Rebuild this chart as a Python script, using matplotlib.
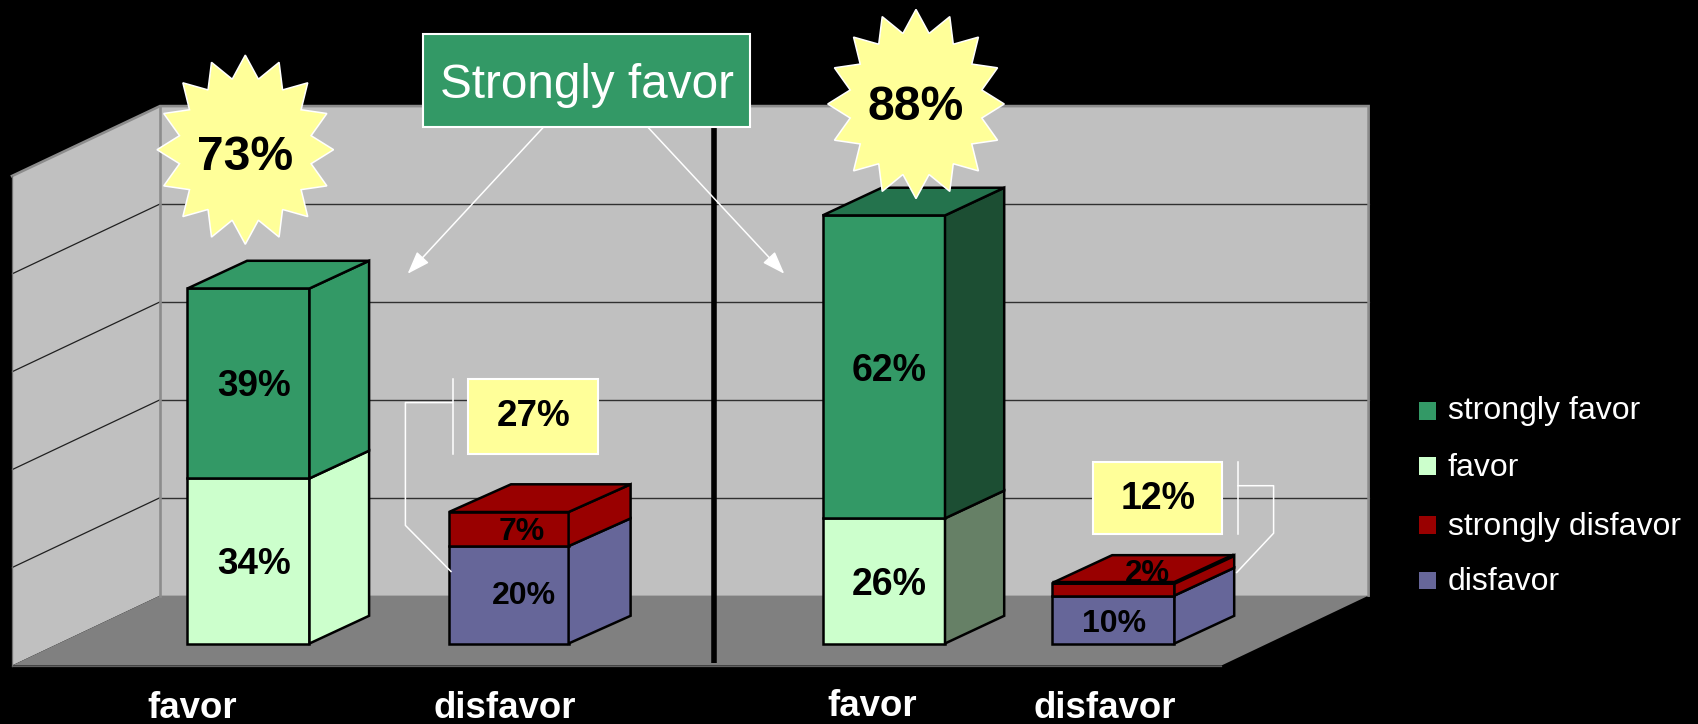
import numpy as np
import matplotlib
matplotlib.use('Agg')
import matplotlib.pyplot as plt
from matplotlib.patches import Polygon, Rectangle

plt.rcParams['font.family'] = ['Liberation Sans', 'DejaVu Sans']

# values (percent)
groups = ['favor', 'disfavor', 'favor', 'disfavor']
lower_values = [33.9, 20, 25.7, 9.85]
upper_values = [39.0, 7, 62.2, 2.6]
lower_labels = ['34%', '20%', '26%', '10%']
upper_labels = ['39%', '7%', '62%', '2%']
series = ['strongly favor', 'favor', 'strongly disfavor', 'disfavor']
ticks = [0, 20, 40, 60, 80, 100]
burst_labels = ['73%', '88%']
box_labels = ['27%', '12%']

GREEN = '#339966'
PALE = '#CCFFCC'
RED = '#990000'
BLUE = '#666699'
YELLOW = '#FFFF99'
WALL = '#C0C0C0'
FLOOR = '#808080'

# layout, in pixels of the final image
PX = 4.895
BAR_PX = 4.87
BACK_Y0 = 595.6
FRONT_X0, FRONT_X1, FRONT_Y = 12, 1221.5, 665.5
BACK_X0, BACK_X1 = 160, 1368.6
BAR_Y0 = 643.5
DY = 27.7


def val_y(v):
    return BACK_Y0 - v * PX


fig = plt.figure(figsize=(16.99, 7.24), dpi=100, facecolor='black')
ax = fig.add_axes([0, 0, 1, 1])
ax.set_xlim(0, 1699)
ax.set_ylim(724, 0)
ax.axis('off')

# walls and floor
side_dy = FRONT_Y - BACK_Y0
top_y = val_y(100)
ax.add_patch(Polygon([(BACK_X0, top_y), (BACK_X1, top_y), (BACK_X1, BACK_Y0), (BACK_X0, BACK_Y0)],
                     fc=WALL, ec='none', zorder=1))
ax.add_patch(Polygon([(FRONT_X0, top_y + side_dy), (BACK_X0, top_y), (BACK_X0, BACK_Y0), (FRONT_X0, FRONT_Y)],
                     fc=WALL, ec='none', zorder=1))
ax.add_patch(Polygon([(FRONT_X0, FRONT_Y), (BACK_X0, BACK_Y0), (BACK_X1, BACK_Y0), (FRONT_X1, FRONT_Y)],
                     fc=FLOOR, ec='none', zorder=1.5))
for t in ticks[1:-1]:
    y = val_y(t)
    ax.plot([BACK_X0, BACK_X1], [y, y], color='#303030', lw=1.0, zorder=2)
    ax.plot([BACK_X0, FRONT_X0], [y, y + side_dy], color='#202020', lw=0.9, zorder=2)
# wall borders
ax.plot([FRONT_X0, BACK_X0, BACK_X1, BACK_X1], [top_y + side_dy, top_y, top_y, BACK_Y0],
        color='#8C8C8C', lw=1.9, zorder=2.5, solid_joinstyle='miter')
ax.plot([BACK_X0, BACK_X0], [top_y, BACK_Y0], color='#8C8C8C', lw=1.9, zorder=2.5)
ax.plot([FRONT_X0, FRONT_X0], [top_y + side_dy, FRONT_Y], color='#707070', lw=0.9, zorder=2.5)
ax.plot([FRONT_X0, FRONT_X1], [FRONT_Y, FRONT_Y], color='#606060', lw=0.9, zorder=2.5)


def box3d(x0, x1, ybot, ytop, color, side, dx, top=None, top_lw=None):
    kw = dict(ec='black', lw=1.8, joinstyle='miter', zorder=3)
    ax.add_patch(Polygon([(x0, ybot), (x1, ybot), (x1, ytop), (x0, ytop)], fc=color, **kw))
    ax.add_patch(Polygon([(x1, ybot), (x1 + dx, ybot - DY), (x1 + dx, ytop - DY), (x1, ytop)], fc=side, **kw))
    if top is not None:
        ax.add_patch(Polygon([(x0, ytop), (x1, ytop), (x1 + dx, ytop - DY), (x0 + dx, ytop - DY)], fc=top, **kw))
    if top_lw is not None:
        ax.plot([x0, x1, x1 + dx], [ytop, ytop, ytop - DY], color='black', lw=top_lw, zorder=3.1,
                solid_capstyle='butt', solid_joinstyle='round')


bar_x = [(187.5, 309.5), (449, 568.6), (822.6, 945), (1052.5, 1174.5)]
bar_dx = [59.6, 62, 59.2, 59.7]
lower_colors = [PALE, BLUE, PALE, BLUE]
upper_colors = [GREEN, RED, GREEN, RED]
lower_sides = [PALE, BLUE, '#668066', BLUE]
upper_sides = [GREEN, RED, '#1C4E33', RED]
top_colors = [GREEN, RED, '#24734D', RED]
top_widths = [None, None, None, 3.0]
for i in range(4):
    x0, x1 = bar_x[i]
    y1 = BAR_Y0 - lower_values[i] * BAR_PX
    y2 = y1 - upper_values[i] * BAR_PX
    box3d(x0, x1, BAR_Y0, y1, lower_colors[i], lower_sides[i], bar_dx[i])
    box3d(x0, x1, y1, y2, upper_colors[i], upper_sides[i], bar_dx[i], top_colors[i], top_widths[i])

# bar value labels
lower_pos = [(254, 564), (524, 595.5), (889, 585), (1113.8, 623.5)]
upper_pos = [(254, 387), (522, 531.5), (889, 371), (1147.7, 573.5)]
lower_size = [26.6, 23, 27, 23]
upper_size = [26.6, 23, 27, 22.5]
for i in range(4):
    ax.text(*lower_pos[i], lower_labels[i], fontsize=lower_size[i], fontweight='bold',
            ha='center', va='center', color='black', zorder=6)
    ax.text(*upper_pos[i], upper_labels[i], fontsize=upper_size[i], fontweight='bold',
            ha='center', va='center', color='black', zorder=6)

# category labels
group_pos = [(192.5, 708), (505, 708), (872.3, 706), (1105, 708)]
for pos, name in zip(group_pos, groups):
    ax.text(*pos, name, fontsize=26.4, fontweight='bold', color='white', ha='center', va='center')

# divider
ax.plot([713.8, 713.8], [127, 662.5], color='black', lw=4, solid_capstyle='butt', zorder=4)


# starbursts
def star(cx, cy, rx, ry, n=16, inner=0.76):
    ang = np.arange(2 * n) * np.pi / n
    r = np.where(np.arange(2 * n) % 2 == 0, 1.0, inner)
    return np.column_stack([cx + rx * r * np.sin(ang), cy - ry * r * np.cos(ang)])


burst_text_y = [157, 108]
for (cx, cy), lab, ty in zip([(245.3, 149.7), (916, 104)], burst_labels, burst_text_y):
    ax.add_patch(Polygon(star(cx, cy, 88.3, 94.6), fc=YELLOW, ec='white', lw=1.1, zorder=7))
    ax.text(cx, ty, lab, fontsize=34.6, fontweight='bold', ha='center', va='center', color='black', zorder=8)

# "Strongly favor" callout and arrows
for tail, head in [((543.6, 127), (407.6, 273.8)), ((647.7, 127), (784.3, 273.8))]:
    ax.annotate('', xy=head, xytext=tail, zorder=5,
                arrowprops=dict(arrowstyle='-|>,head_length=1.4,head_width=0.5', color='white', lw=1.1,
                                shrinkA=0, shrinkB=0))
ax.add_patch(Rectangle((423.3, 33.7), 326.7, 93.3, fc=GREEN, ec='white', lw=1.5, zorder=6))
ax.text(587, 85, 'Strongly favor', fontsize=34.3, color='white', ha='center', va='center', zorder=7)

# total boxes with bracket leaders
ax.add_patch(Rectangle((468.3, 378.6), 130.1, 75.7, fc=YELLOW, ec='white', lw=1.5, zorder=6))
ax.text(534, 416, box_labels[0], fontsize=26.6, fontweight='bold', ha='center', va='center', zorder=7)
ax.plot([452.6, 452.6], [378.6, 454.3], color='white', lw=1.1, zorder=6)
ax.plot([452.6, 405.4, 405.4, 451], [402.6, 402.6, 525.4, 571.5], color='white', lw=1.1, zorder=6)

ax.add_patch(Rectangle((1093.2, 461.7), 128.8, 72, fc=YELLOW, ec='white', lw=1.5, zorder=6))
ax.text(1158.6, 499, box_labels[1], fontsize=27, fontweight='bold', ha='center', va='center', zorder=7)
ax.plot([1237.9, 1237.9], [461.7, 533.7], color='white', lw=1.1, zorder=6)
ax.plot([1237.9, 1273.6, 1273.6, 1236.7], [485.7, 485.7, 533.2, 572.5], color='white', lw=1.1, zorder=6)

# legend, rows are not evenly spaced in the original
legend_colors = [GREEN, PALE, RED, BLUE]
legend_y = [410.8, 466, 525, 580.7]
legend_text_y = [411.4, 467.5, 526.5, 582.3]
for name, col, y, ty in zip(series, legend_colors, legend_y, legend_text_y):
    ax.add_patch(Rectangle((1419, y - 8.7), 17, 17.4, fc=col, ec='none'))
    ax.text(1448, ty, name, fontsize=23, color='white', ha='left', va='center')

fig.savefig('out.png', dpi=100, facecolor='black')
